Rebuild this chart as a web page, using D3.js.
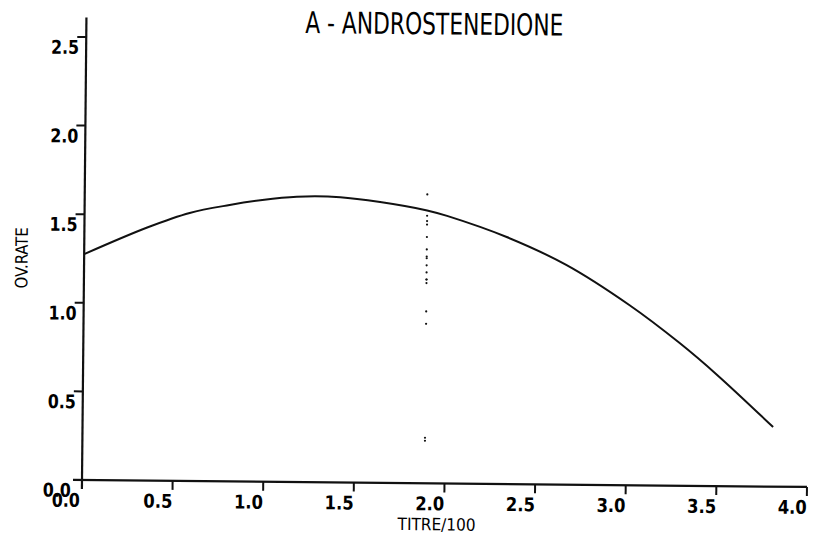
<!DOCTYPE html>
<html>
<head>
<meta charset="utf-8">
<script src="https://cdn.jsdelivr.net/npm/d3@7"></script>
<style>
  html, body { margin: 0; padding: 0; background: #fff; }
  svg { display: block; }
  text { font-family: "Liberation Sans Narrow", "DejaVu Sans Condensed", "Liberation Sans", sans-serif; fill: #000; }
</style>
</head>
<body>
<svg id="chart" width="814" height="535"></svg>
<script>
// Fitted response curve: ovulation rate against titre/100
const titre = [0, 0.35, 0.58, 0.80, 0.98, 1.17, 1.41, 1.63, 1.89, 2.00, 2.33, 2.66, 3.01, 3.29, 3.50, 3.81];
const ovRate = [1.275, 1.43, 1.513, 1.56, 1.59, 1.61, 1.61, 1.585, 1.54, 1.51, 1.394, 1.24, 1.017, 0.805, 0.626, 0.336];

// Dotted marker column at titre 1.89
const markerTitre = 1.89;
const markerRates = [1.63, 1.51, 1.48, 1.46, 1.39, 1.32, 1.28, 1.27, 1.23, 1.19, 1.15, 1.15, 1.13, 0.97, 0.90, 0.257, 0.24];

// Axis ticks
const xTicks = [0.5, 1.0, 1.5, 2.0, 2.5, 3.0, 3.5, 4.0];
const xTickLabels = ["0.5", "1.0", "1.5", "2.0", "2.5", "3.0", "3.5", "4.0"];
const yTicks = [0.5, 1.0, 1.5, 2.0, 2.5];
const yTickLabels = ["0.5", "1.0", "1.5", "2.0", "2.5"];

const titleText = "A - ANDROSTENEDIONE";
const xTitle = "TITRE/100";
const yTitle = "OV.RATE";

const svg = d3.select("#chart");
svg.append("rect").attr("width", 814).attr("height", 535).attr("fill", "#fff");

const x = d3.scaleLinear().domain([0, 4]).range([82, 807]);
const y = d3.scaleLinear().domain([0, 2.5]).range([480, 37]);

// whole plot sits slightly tilted on the page
const g = svg.append("g").attr("transform", `rotate(0.55, ${x(0)}, ${y(0)})`);

const ink = "#111";

// axes
g.append("line").attr("x1", x(0)).attr("x2", x(0)).attr("y1", y(2.61)).attr("y2", y(0) + 9)
  .attr("stroke", ink).attr("stroke-width", 2.2);
g.append("line").attr("x1", x(0) - 9).attr("x2", x(4)).attr("y1", y(0)).attr("y2", y(0))
  .attr("stroke", ink).attr("stroke-width", 2.2);

// x ticks (downward) and labels right-aligned on the tick
g.selectAll(".xt").data(xTicks).enter().append("line")
  .attr("x1", d => x(d)).attr("x2", d => x(d))
  .attr("y1", y(0)).attr("y2", y(0) + 9)
  .attr("stroke", ink).attr("stroke-width", 2);
g.selectAll(".xl").data(xTicks).enter().append("text")
  .attr("x", d => x(d) - 29).attr("y", y(0) + 27)
  .attr("font-size", 19).attr("font-weight", "bold")
  .attr("textLength", 29).attr("lengthAdjust", "spacingAndGlyphs")
  .text((d, i) => xTickLabels[i]);

// y ticks (leftward) and labels hanging under the tick
g.selectAll(".yt").data(yTicks).enter().append("line")
  .attr("x1", x(0) - 9).attr("x2", x(0))
  .attr("y1", d => y(d)).attr("y2", d => y(d))
  .attr("stroke", ink).attr("stroke-width", 2);
g.selectAll(".yl").data(yTicks).enter().append("text")
  .attr("x", x(0) - 35).attr("y", d => y(d) + 17)
  .attr("font-size", 19).attr("font-weight", "bold")
  .attr("textLength", 28).attr("lengthAdjust", "spacingAndGlyphs")
  .text((d, i) => yTickLabels[i]);

// origin labels for both axes
g.append("text").attr("x", x(0) - 39).attr("y", y(0) + 17)
  .attr("font-size", 19).attr("font-weight", "bold")
  .attr("textLength", 28).attr("lengthAdjust", "spacingAndGlyphs").text("0.0");
g.append("text").attr("x", x(0) - 30).attr("y", y(0) + 27)
  .attr("font-size", 19).attr("font-weight", "bold")
  .attr("textLength", 28).attr("lengthAdjust", "spacingAndGlyphs").text("0.0");

// titles
g.append("text").attr("x", 430).attr("y", 31).attr("text-anchor", "middle")
  .attr("font-size", 30).attr("textLength", 258).attr("lengthAdjust", "spacingAndGlyphs")
  .text(titleText);
g.append("text").attr("x", 437).attr("y", 527).attr("text-anchor", "middle")
  .attr("font-size", 17).attr("textLength", 78).attr("lengthAdjust", "spacingAndGlyphs")
  .text(xTitle);
g.append("text").attr("transform", "translate(25.5, 258.5) rotate(-90)").attr("text-anchor", "middle")
  .attr("font-size", 17).attr("textLength", 61).attr("lengthAdjust", "spacingAndGlyphs")
  .text(yTitle);

// response curve
const line = d3.line().x((d, i) => x(titre[i])).y(d => y(d)).curve(d3.curveCatmullRom.alpha(0.5));
g.append("path").datum(ovRate).attr("d", line)
  .attr("fill", "none").attr("stroke", ink).attr("stroke-width", 2);

// dotted marker column
g.selectAll(".dot").data(markerRates).enter().append("circle")
  .attr("cx", x(markerTitre)).attr("cy", d => y(d)).attr("r", 1.1).attr("fill", ink);
</script>
</body>
</html>
